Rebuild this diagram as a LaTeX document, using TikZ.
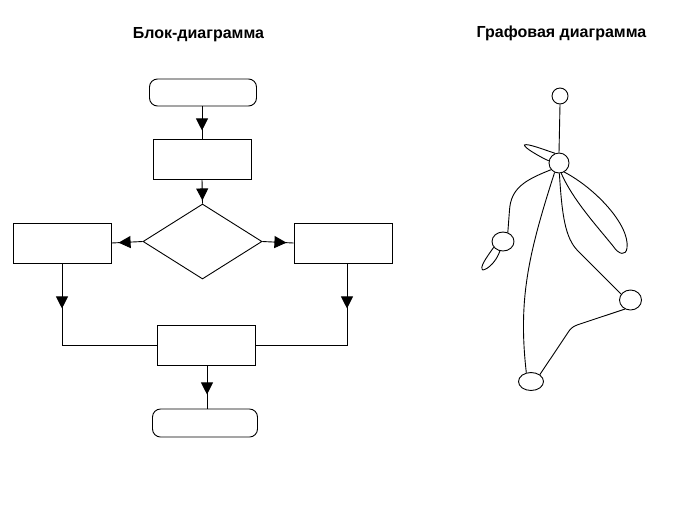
\documentclass[tikz,border=0pt]{standalone}
\usepackage{fontspec}
\setmainfont{Liberation Sans}
\usetikzlibrary{shapes.geometric,arrows.meta,decorations.markings}
\tikzset{
  ln/.style={line width=0.9pt},
  box/.style={ln,draw,rectangle,inner sep=0pt,minimum width=98pt,minimum height=40pt},
  term/.style={ln,draw,rectangle,rounded corners=8pt,inner sep=0pt,minimum height=27pt},
  dec/.style={ln,draw,diamond,inner sep=0pt,minimum width=119pt,minimum height=75pt},
  gnode/.style={ln,draw,ellipse,inner sep=0pt},
  midarrow/.style={ln,postaction={decorate},decoration={markings,
     mark=at position #1 with {\arrow{Triangle[length=12pt,width=12pt]}}}},
  title/.style={font=\bfseries\fontsize{16}{18}\selectfont}
}
\begin{document}
\begin{tikzpicture}[x=1pt,y=-1pt]
\useasboundingbox (0,0) rectangle (684,523);
% titles
\node[title] (t1) at (198.5,35) {Блок-диаграмма};
\node[title] (t2) at (561.5,33) {Графовая диаграмма};
% flowchart
\node[term,minimum width=107pt] (start) at (203,92.5) {};
\node[box] (p1) at (202,159) {};
\node[dec] (d) at (202.5,241.5) {};
\node[box] (L) at (62,243) {};
\node[box] (R) at (343,243) {};
\node[box] (B) at (206,345) {};
\node[term,minimum width=105pt,minimum height=28pt] (end) at (205,423) {};
\draw[midarrow=24pt] (start.south -| p1.north) -- (p1.north);
\draw[midarrow=21pt] (p1.south) -- (d.north);
\draw[midarrow=24pt] (d.west) -- (L.east);
\draw[midarrow=24pt] (d.east) -- (R.west);
\draw[midarrow=45pt] (L.south) |- (B.west);
\draw[midarrow=45pt] ([xshift=4pt]R.south) |- (B.east);
\draw[midarrow=29pt] ([xshift=1pt]B.south) -- ([xshift=1pt]B.south |- end.north);
% graph
\node[gnode,minimum width=16pt,minimum height=16pt] (g1) at (560,96) {};
\node[gnode,minimum width=20pt,minimum height=20pt] (g2) at (559,163) {};
\node[gnode,minimum width=22pt,minimum height=19pt] (g3) at (503,241.5) {};
\node[gnode,minimum width=22pt,minimum height=20pt] (g4) at (630.5,300) {};
\node[gnode,minimum width=25pt,minimum height=18pt] (g5) at (531,381.5) {};
\draw[ln] (g1.south) -- (g2.north);
% loop on hub (upper left)
\draw[ln] (g2.112) .. controls (545,150) and (527,143) .. (524.5,145)
  .. controls (523,147) and (540,157) .. (g2.168);
% hub to left node
\draw[ln] (g2.220) .. controls (525,180) and (511,188) .. (509.5,210) -- (g3.62);
% loop on left node
\draw[ln] (g3.212) .. controls (486,258) and (479,268) .. (483,270)
  .. controls (488,269) and (496,262) .. (g3.252);
% hub to bottom node
\draw[ln] (g2.245) .. controls (528,255) and (518,300) .. (g5.118);
% big loop on hub (right)
\draw[ln] (g2.300) .. controls (595,188) and (630,225) .. (627,248)
  .. controls (626,256) and (619,255) .. (613,246)
  .. controls (596,225) and (573,200) .. (g2.282);
% hub to right node
\draw[ln] (g2.272) .. controls (562,215) and (565,238) .. (578,251) -- (g4.148);
% right node to bottom node
\draw[ln] (g4.238) -- (577,325) .. controls (572,327) and (570,329) .. (567,334) -- (g5.38);
\end{tikzpicture}
\end{document}
